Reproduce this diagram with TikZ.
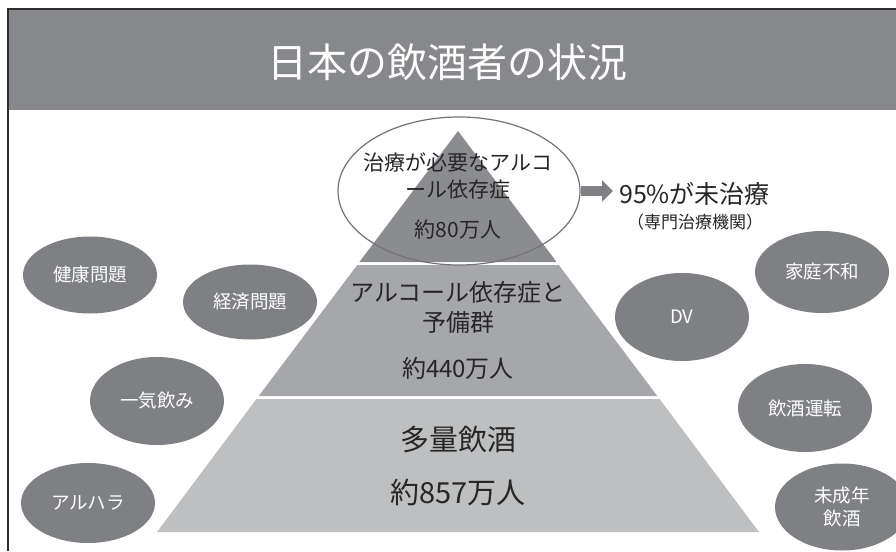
\documentclass[tikz,border=0pt]{standalone}
\usepackage{fontspec}
\setmainfont{Noto Sans CJK JP}
\usetikzlibrary{arrows.meta,shapes.geometric}

\definecolor{hdgray}{HTML}{87888B}
\definecolor{bubgray}{HTML}{7F8084}
\definecolor{topgray}{HTML}{8B8C8F}
\definecolor{midgray}{HTML}{A6A7AA}
\definecolor{lowgray}{HTML}{BEBFC1}
\definecolor{framegray}{HTML}{2E2E2E}

\begin{document}
\begin{tikzpicture}[x=1pt,y=-1pt,
    bubble/.style={ellipse,fill=bubgray,text=white,minimum width=134pt,inner sep=0pt,align=center,font=\fontsize{18.5}{23}\selectfont},
    label/.style={text=black!85,align=center,inner sep=0pt}]
  \useasboundingbox (0,0) rectangle (896,551);
  % header and frame
  \fill[hdgray] (8,9) rectangle (896,110);
  \draw[framegray,line width=2pt] (8,551) -- (8,9) -- (896,9);
  \node[text=white,font=\fontsize{40}{48}\selectfont] (title) at (447,62) {日本の飲酒者の状況};
  % pyramid
  \fill[topgray] (458,131) -- (556.6,262) -- (359.4,262) -- cycle;
  \fill[midgray] (357.2,265) -- (558.8,265) -- (657.3,396) -- (258.7,396) -- cycle;
  \fill[lowgray] (256.4,399) -- (659.6,399) -- (759,532) -- (157,532) -- cycle;
  \node[ellipse,draw=black!55,line width=1.2pt,minimum width=242pt,minimum height=148pt] (top) at (459,191) {};
  \draw
    (458,162) node[label,font=\fontsize{21}{25}\selectfont] (t1){治療が必要なアルコ}
    (458,190) node[label,font=\fontsize{21}{25}\selectfont] (t2){ール依存症}
    (458,230) node[label,font=\fontsize{21}{25}\selectfont] (t3){約80万人}
    (458,307) node[label,font=\fontsize{24}{30}\selectfont] (m1){アルコール依存症と\\予備群}
    (458,368) node[label,font=\fontsize{24}{30}\selectfont] (m2){約440万人}
    (458,439) node[label,font=\fontsize{29}{35}\selectfont] (b1){多量飲酒}
    (458,492) node[label,font=\fontsize{29}{35}\selectfont] (b2){約857万人};
  % untreated share
  \node[label,anchor=west,font=\fontsize{25}{30}\selectfont] (untr) at (619,194) {95\%が未治療};
  \node[label,font=\fontsize{17}{20}\selectfont] (spec) at (695,222) {（専門治療機関）};
  \draw[bubgray,line width=10pt,-{Triangle[length=11pt,width=21pt]},shorten >=6pt] (top.east) -- (untr.west |- top.east);
  % bubbles
  \begin{scope}
    \node[bubble,minimum height=77pt] (health) at (90,275) {健康問題};
    \node[bubble,minimum height=75pt] (money) at (250,302) {経済問題};
    \node[bubble,minimum height=88pt] (ikki) at (157,401) {一気飲み};
    \node[bubble,minimum height=80pt] (aruhara) at (88,503) {アルハラ};
    \node[bubble,minimum height=82pt] (family) at (822,272) {家庭不和};
    \node[bubble,minimum height=88pt] (dv) at (682,317) {DV};
    \node[bubble,minimum height=88pt] (drive) at (805,408) {飲酒運転};
    \node[bubble,minimum height=87pt] (minor) at (842,507) {未成年\\飲酒};
  \end{scope}
\end{tikzpicture}
\end{document}
